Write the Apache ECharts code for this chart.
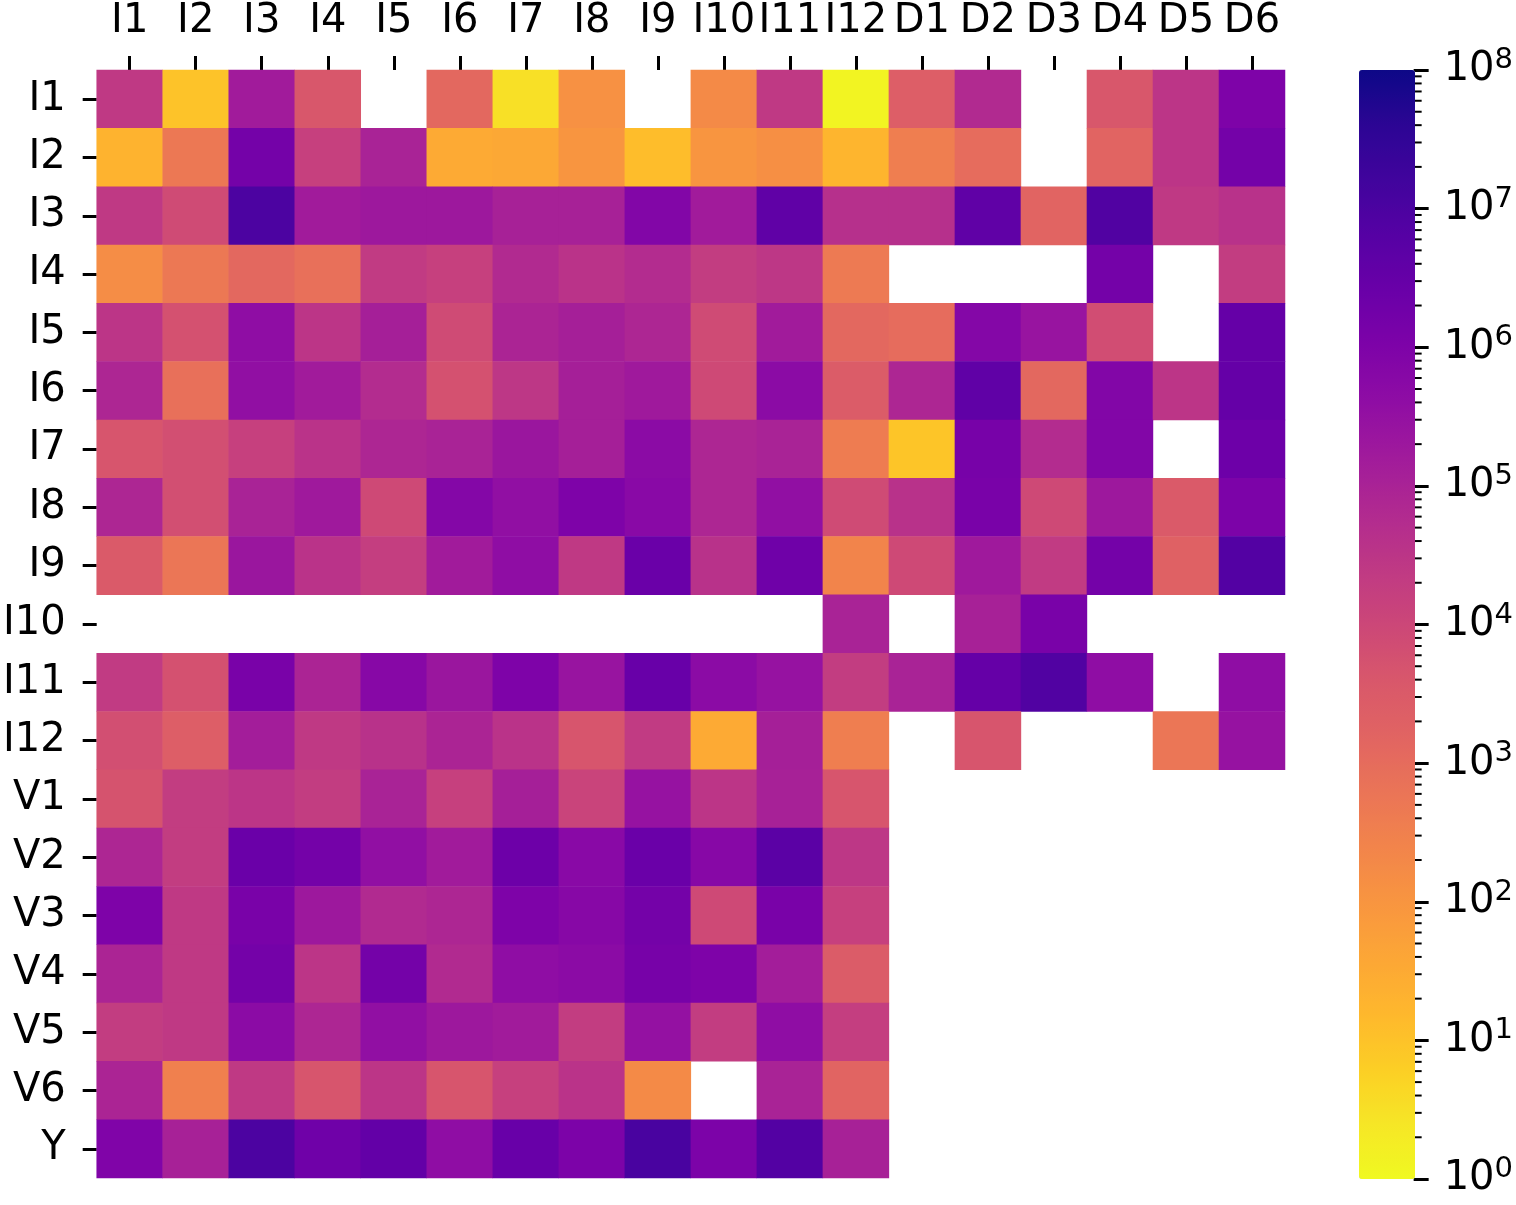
<!DOCTYPE html>
<html>
<head>
<meta charset="utf-8">
<script src="https://cdn.jsdelivr.net/npm/echarts@6/dist/echarts.min.js"></script>
<style>
  html, body { margin: 0; padding: 0; background: #fff; }
  #main { width: 1516px; height: 1205px; }
</style>
</head>
<body>
<div id="main"></div>
<script>
// column / row labels
const cols = ["I1", "I2", "I3", "I4", "I5", "I6", "I7", "I8", "I9", "I10", "I11", "I12", "D1", "D2", "D3", "D4", "D5", "D6"];
const rows = ["I1", "I2", "I3", "I4", "I5", "I6", "I7", "I8", "I9", "I10", "I11", "I12", "V1", "V2", "V3", "V4", "V5", "V6", "Y"];

// log10 of each cell value (null = empty cell)
const rowI1  = [4.4, 1.0, 5.2, 3.6, null, 3.1, 0.5, 2.1, null, 2.25, 4.4, 0.1, 3.4, 4.8, null, 3.6, 4.5, 6.0];
const rowI2  = [1.3, 2.7, 6.2, 4.2, 5.0, 1.5, 1.55, 2.0, 1.1, 2.0, 2.15, 1.25, 2.55, 3.0, null, 3.2, 4.5, 6.2];
const rowI3  = [4.4, 3.9, 7.0, 5.2, 5.3, 5.3, 5.05, 5.05, 5.9, 5.2, 6.6, 4.65, 4.65, 6.6, 3.2, 6.9, 4.4, 4.6];
const rowI4  = [2.2, 2.7, 3.1, 2.9, 4.35, 4.2, 4.8, 4.55, 4.75, 4.3, 4.45, 2.65, null, null, null, 6.2, null, 4.3];
const rowI5  = [4.5, 3.75, 5.6, 4.5, 5.1, 3.9, 4.95, 5.1, 4.9, 3.9, 5.2, 3.1, 3.0, 5.85, 5.4, 3.85, null, 6.5];
const rowI6  = [4.9, 2.9, 5.55, 5.2, 4.75, 3.75, 4.45, 5.1, 5.25, 3.95, 5.7, 3.45, 4.9, 6.6, 3.1, 5.9, 4.5, 6.5];
const rowI7  = [3.65, 3.8, 4.2, 4.55, 4.9, 5.0, 5.35, 5.1, 5.7, 4.9, 5.0, 2.6, 0.95, 6.15, 4.75, 5.9, null, 6.35];
const rowI8  = [4.9, 3.8, 5.0, 5.25, 3.95, 5.85, 5.55, 6.0, 5.75, 4.9, 5.55, 3.9, 4.6, 6.1, 3.95, 5.3, 3.5, 6.05];
const rowI9  = [3.5, 2.75, 5.35, 4.55, 4.25, 5.2, 5.6, 4.4, 6.4, 4.6, 6.3, 2.4, 3.95, 5.25, 4.35, 6.2, 3.3, 6.85];
const rowI10 = [null, null, null, null, null, null, null, null, null, null, null, 5.0, null, 5.05, 6.1, null, null, null];
const rowI11 = [4.35, 3.75, 6.1, 4.95, 5.8, 5.35, 6.0, 5.4, 6.45, 5.7, 5.45, 4.3, 5.0, 6.5, 6.9, 5.6, null, 5.6];
const rowI12 = [3.8, 3.4, 5.15, 4.4, 4.6, 4.95, 4.55, 3.65, 4.35, 1.5, 5.1, 2.55, null, 3.65, null, null, 2.75, 5.45];
const rowV1  = [3.7, 4.3, 4.5, 4.3, 5.0, 4.2, 5.1, 4.1, 5.45, 4.5, 5.05, 3.65];
const rowV2  = [4.9, 4.3, 6.4, 6.2, 5.55, 5.2, 6.35, 5.75, 6.4, 5.8, 6.7, 4.45];
const rowV3  = [6.0, 4.4, 6.1, 5.3, 4.8, 4.9, 6.0, 5.8, 6.2, 3.95, 6.1, 4.2];
const rowV4  = [4.95, 4.4, 6.2, 4.5, 6.2, 4.8, 5.6, 5.7, 6.15, 6.0, 5.15, 3.45];
const rowV5  = [4.3, 4.4, 5.7, 4.9, 5.55, 5.3, 5.2, 4.3, 5.5, 4.3, 5.6, 4.25];
const rowV6  = [4.95, 2.5, 4.4, 3.65, 4.5, 3.65, 4.2, 4.55, 2.25, null, 5.0, 3.2];
const rowY   = [5.95, 5.05, 7.0, 6.3, 6.55, 5.6, 6.45, 6.05, 7.05, 6.05, 6.85, 5.05];

const logValues = [rowI1, rowI2, rowI3, rowI4, rowI5, rowI6, rowI7, rowI8, rowI9, rowI10, rowI11, rowI12,
  rowV1, rowV2, rowV3, rowV4, rowV5, rowV6, rowY];

// colour bar exponents
const cbarExps = [0, 1, 2, 3, 4, 5, 6, 7, 8];

// plasma, low (yellow) -> high (dark blue)
const plasmaR = ["#f0f921", "#f6e626", "#fcce25", "#feb72d", "#fca636", "#f89540", "#f2844b", "#ea7457",
  "#e16462", "#d8576b", "#cc4778", "#bf3984", "#b12a90", "#a11b9b", "#8f0da4", "#7e03a8",
  "#6a00a8", "#5601a4", "#41049d", "#2c0594", "#0d0887"];

const cells = [];
logValues.forEach((row, r) => {
  row.forEach((v, c) => {
    if (v !== null && v !== undefined) cells.push([c, r, v]);
  });
});

// minor ticks of the log colour bar (2..9 x 10^n)
const minorTicks = [];
for (let n = 0; n < 8; n++) {
  for (let k = 2; k <= 9; k++) minorTicks.push([1, n + Math.log10(k)]);
}

const FONT = "DejaVu Sans";

const chart = echarts.init(document.getElementById("main"));
chart.setOption({
  animation: false,
  backgroundColor: "#fff",
  grid: [
    { left: 95, top: 70, width: 1190, height: 1108 },
    { left: 1359, top: 70, width: 56, height: 1109 }
  ],
  xAxis: [
    {
      type: "category",
      data: cols,
      position: "top",
      gridIndex: 0,
      axisLine: { show: false },
      axisTick: { show: true, alignWithLabel: true, length: 14, lineStyle: { color: "#000", width: 3 } },
      axisLabel: { color: "#000", fontSize: 40, fontFamily: FONT, margin: 28, interval: 0 },
      splitLine: { show: false }
    },
    { type: "value", gridIndex: 1, min: 0, max: 1, show: false }
  ],
  yAxis: [
    {
      type: "category",
      data: rows,
      inverse: true,
      gridIndex: 0,
      axisLine: { show: false },
      axisTick: { show: true, alignWithLabel: true, length: 14, lineStyle: { color: "#000", width: 3 } },
      axisLabel: { color: "#000", fontSize: 40, fontFamily: FONT, margin: 31, interval: 0 },
      splitLine: { show: false }
    },
    {
      type: "value",
      gridIndex: 1,
      min: 0,
      max: 8,
      interval: 1,
      position: "right",
      axisLine: { show: false, onZero: false },
      axisTick: { show: true, length: 15, lineStyle: { color: "#000", width: 3 } },
      axisLabel: {
        margin: 30,
        formatter: (v) => "{b|10}{s|" + cbarExps[v] + "}",
        rich: {
          b: { fontSize: 40, fontFamily: FONT, color: "#000" },
          s: { fontSize: 29, fontFamily: FONT, color: "#000", padding: [0, 0, 19, 0] }
        }
      },
      splitLine: { show: false }
    }
  ],
  visualMap: {
    type: "continuous",
    seriesIndex: 0,
    min: 0,
    max: 8,
    calculable: false,
    orient: "vertical",
    left: 1359,
    top: 70,
    padding: 0,
    itemWidth: 56,
    itemHeight: 1109,
    text: null,
    showLabel: false,
    hoverLink: false,
    inRange: { color: plasmaR }
  },
  series: [
    {
      type: "heatmap",
      xAxisIndex: 0,
      yAxisIndex: 0,
      data: cells,
      itemStyle: { borderWidth: 0 },
      emphasis: { disabled: true }
    },
    {
      type: "custom",
      xAxisIndex: 1,
      yAxisIndex: 1,
      data: minorTicks,
      silent: true,
      clip: false,
      renderItem: (params, api) => {
        const p = api.coord([1, api.value(1)]);
        return {
          type: "line",
          shape: { x1: p[0], y1: p[1], x2: p[0] + 8, y2: p[1] },
          style: { stroke: "#000", lineWidth: 2 }
        };
      }
    }
  ]
});
</script>
</body>
</html>
